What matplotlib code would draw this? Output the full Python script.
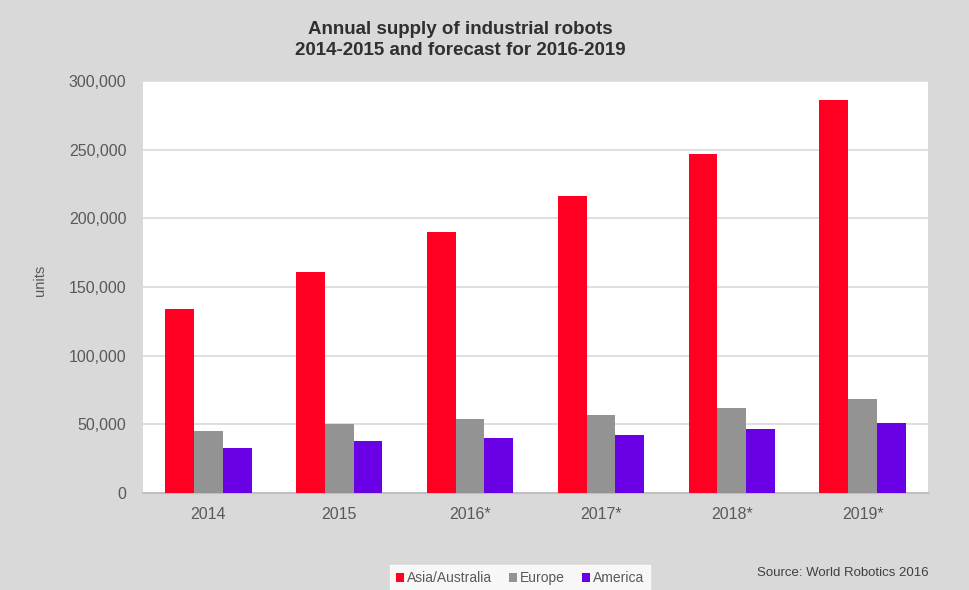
import numpy as np
import matplotlib
matplotlib.use('Agg')
import matplotlib.pyplot as plt
from matplotlib.ticker import FuncFormatter

plt.rcParams['font.family'] = ['Liberation Sans', 'DejaVu Sans']

years = ['2014', '2015', '2016*', '2017*', '2018*', '2019*']
asia = [134000, 160600, 190000, 216000, 247000, 286000]
europe = [45500, 50100, 54000, 57000, 62000, 68500]
america = [32600, 38100, 40000, 42000, 46500, 51000]
series_names = ['Asia/Australia', 'Europe', 'America']
colors = ['#ff0022', '#939393', '#6a00e6']

fig = plt.figure(figsize=(9.7, 5.9), dpi=100, facecolor='#d9d9d9')
ax = fig.add_axes([143/970, 1 - 493/590, (928 - 143)/970, (493 - 81)/590])
ax.set_facecolor('white')

x = np.arange(len(years))
w = 0.22
for i, (vals, name) in enumerate(zip([asia, europe, america], series_names)):
    ax.bar(x + (i - 1) * w, vals, width=w, color=colors[i], label=name, zorder=3)

ax.set_xlim(-0.5, len(years) - 0.5)
ax.set_ylim(0, 300000)
ax.set_yticks(np.arange(0, 300001, 50000))
ax.yaxis.set_major_formatter(FuncFormatter(lambda v, p: f'{int(v):,}'))
ax.set_xticks(x)
ax.set_xticklabels(years)
ax.grid(axis='y', color='#d9d9d9', linewidth=1.2, zorder=0)
for s in ['top', 'right', 'left']:
    ax.spines[s].set_visible(False)
ax.spines['bottom'].set_color('#bfbfbf')
ax.spines['bottom'].set_linewidth(1.5)
ax.tick_params(axis='both', length=0, labelsize=11.5, colors='#595959')
ax.tick_params(axis='x', pad=10)
ax.tick_params(axis='y', pad=12)

fig.text(40/970, 1 - 280/590, 'units', rotation=90, ha='center', va='center',
         fontsize=10.5, color='#595959')

fig.text(460/970, 1 - 40/590, 'Annual supply of industrial robots\n2014-2015 and forecast for 2016-2019',
         ha='center', va='center', fontsize=13.5, fontweight='bold', color='#303030',
         linespacing=1.35)

leg = fig.legend(loc='center', bbox_to_anchor=(520/970, 1 - 578/590), ncol=3,
                 frameon=True, fancybox=False, fontsize=10, handlelength=0.6,
                 handleheight=0.6, handletextpad=0.2, columnspacing=1.2,
                 borderpad=0.4, edgecolor='white')
for t in leg.get_texts():
    t.set_color('#595959')

fig.text(843/970, 1 - 573/590, 'Source: World Robotics 2016', ha='center', va='center',
         fontsize=9.5, color='#404040')

fig.savefig('out.png', dpi=100, facecolor=fig.get_facecolor())
